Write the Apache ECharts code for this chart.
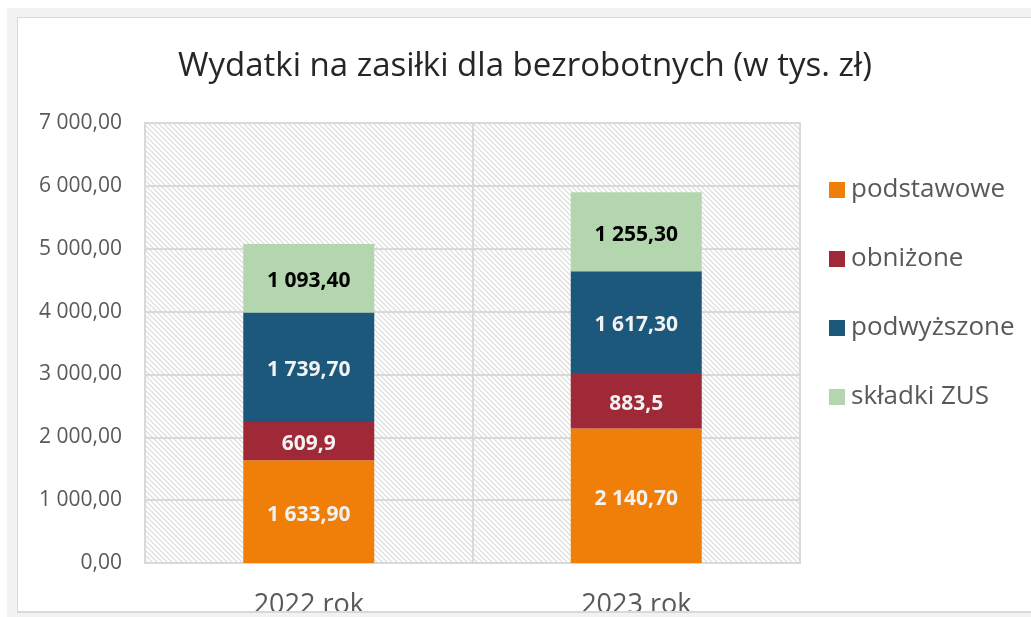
<!DOCTYPE html>
<html>
<head>
<meta charset="utf-8">
<script src="https://cdn.jsdelivr.net/npm/echarts@6/dist/echarts.min.js"></script>
<style>
    html, body { margin: 0; padding: 0; background: #ffffff; }
    #chart { position: absolute; left: 0; top: 0; width: 1031px; height: 617px; }
    .frame { position: absolute; background: #f2f2f2; pointer-events: none; z-index: 5; }
    .edge { position: absolute; background: #d9d9d9; pointer-events: none; z-index: 6; }
</style>
</head>
<body>
<div id="chart"></div>
<!-- ramka jak w arkuszu -->
<div class="frame" style="left:7px; top:8px; width:1024px; height:10px;"></div>
<div class="frame" style="left:7px; top:8px; width:10px; height:609px;"></div>
<div class="frame" style="left:7px; top:612px; width:1024px; height:5px;"></div>
<div class="edge" style="left:17px; top:17px; width:1014px; height:1px;"></div>
<div class="edge" style="left:17px; top:17px; width:1px; height:595px;"></div>
<div class="edge" style="left:17px; top:611px; width:1014px; height:2px;"></div>
<script>
/* dane */
const categories = ['2022 rok', '2023 rok'];
const seriesNames = ['podstawowe', 'obniżone', 'podwyższone', 'składki ZUS'];
const podstawowe = [1633.9, 2140.7];
const obnizone = [609.9, 883.5];
const podwyzszone = [1739.7, 1617.3];
const skladkiZus = [1093.4, 1255.3];
const labelDecimals = [2, 1, 2, 2];
const yTicks = [0, 1000, 2000, 3000, 4000, 5000, 6000, 7000];

const seriesColors = ['#f07f09', '#9f2936', '#1b587c', '#b4d6ae'];
const labelColors = ['#f2f2f2', '#f2f2f2', '#f2f2f2', '#000000'];

/* format: 1 633,90 */
function fmt(v, dec) {
    let s = v.toFixed(dec);
    let parts = s.split('.');
    let intPart = parts[0].replace(/\B(?=(\d{3})+(?!\d))/g, ' ');
    return parts.length > 1 ? intPart + ',' + parts[1] : intPart;
}

/* tło w ukośne paski */
function hatch() {
    let c = document.createElement('canvas');
    let n = 5;
    c.width = n; c.height = n;
    let ctx = c.getContext('2d');
    let img = ctx.createImageData(n, n);
    for (let y = 0; y < n; y++) {
        for (let x = 0; x < n; x++) {
            let d = ((x - y) % n + n) % n;
            let g = d == 0 ? 222 : (d == 1 || d == n - 1) ? 242 : 255;
            let i = (y * n + x) * 4;
            img.data[i] = g; img.data[i + 1] = g; img.data[i + 2] = g; img.data[i + 3] = 255;
        }
    }
    ctx.putImageData(img, 0, 0);
    return c;
}

const font = '"Open Sans", "Noto Sans", sans-serif';
const allData = [podstawowe, obnizone, podwyzszone, skladkiZus];

var chart = echarts.init(document.getElementById('chart'), null, { renderer: 'canvas' });
var option = {
    animation: false,
    backgroundColor: '#ffffff',
    title: {
        text: 'Wydatki na zasiłki dla bezrobotnych (w tys. zł)',
        left: 178,
        top: 50,
        padding: 0,
        textStyle: {
            fontFamily: font,
            fontSize: 33,
            fontWeight: 'normal',
            color: '#262626'
        }
    },
    legend: {
        orient: 'vertical',
        left: 824,
        top: 172,
        itemWidth: 16,
        itemHeight: 16,
        itemGap: 43,
        icon: 'rect',
        data: seriesNames,
        textStyle: {
            fontFamily: font,
            fontSize: 26,
            lineHeight: 26,
            color: '#595959',
            padding: [0, 0, 0, 1]
        }
    },
    grid: {
        left: 145,
        right: 231,
        top: 123,
        bottom: 54,
        outerBoundsMode: 'none',
        show: true,
        borderColor: '#d9d9d9',
        borderWidth: 2,
        backgroundColor: { image: hatch(), repeat: 'repeat' }
    },
    xAxis: {
        type: 'category',
        data: categories,
        axisLine: { show: true, lineStyle: { color: '#d9d9d9', width: 2 } },
        axisTick: { show: false },
        splitLine: { show: true, lineStyle: { color: '#d9d9d9', width: 2 } },
        axisLabel: {
            margin: 29,
            fontFamily: font,
            fontSize: 27,
            color: '#595959'
        }
    },
    yAxis: {
        type: 'value',
        min: yTicks[0],
        max: yTicks[yTicks.length - 1],
        interval: yTicks[1] - yTicks[0],
        axisLine: { show: false },
        axisTick: { show: false },
        splitLine: { show: true, lineStyle: { color: '#d9d9d9', width: 2 } },
        axisLabel: {
            margin: 23,
            fontFamily: font,
            fontSize: 21,
            color: '#595959',
            formatter: function (v) { return fmt(v, 2); }
        }
    },
    series: seriesNames.map(function (name, k) {
        return {
            name: name,
            type: 'bar',
            stack: 'total',
            barWidth: '40%',
            itemStyle: { color: seriesColors[k] },
            label: {
                show: true,
                position: 'inside',
                offset: [0, 3],
                fontFamily: font,
                fontSize: 21,
                fontWeight: 'bold',
                color: labelColors[k],
                formatter: function (p) { return fmt(p.value, labelDecimals[k]); }
            },
            data: allData[k]
        };
    })
};
chart.setOption(option);

window.addEventListener('resize', function () {
    chart.resize();
});
</script>
</body>
</html>
